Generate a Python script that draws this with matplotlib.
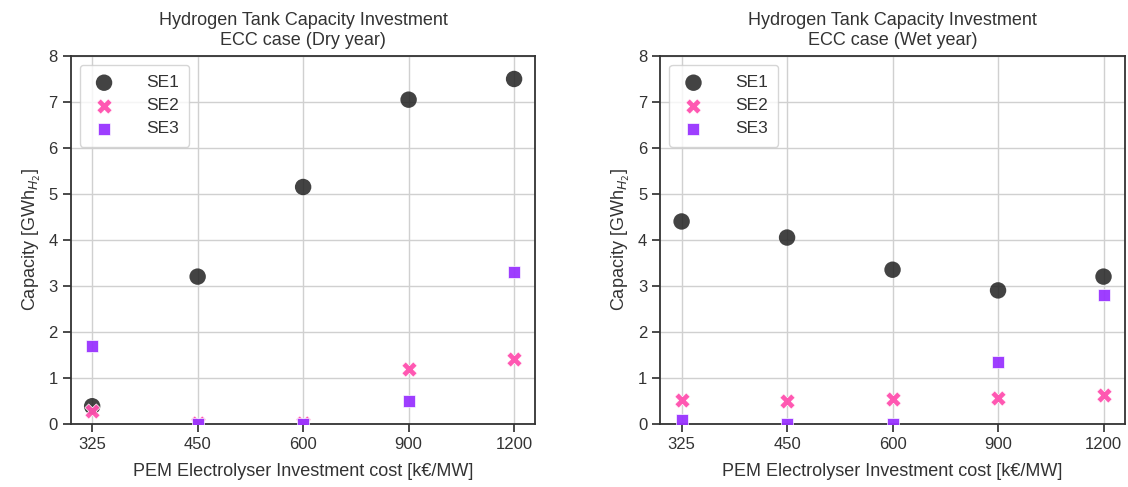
import matplotlib
matplotlib.use("Agg")
import matplotlib.pyplot as plt
import seaborn as sns

# PEM electrolyser investment cost levels [kEUR/MW]
costs = ["325", "450", "600", "900", "1200"]

# Hydrogen tank capacity per bidding zone [GWh H2], dry year
dry_se1 = [0.38, 3.2, 5.15, 7.05, 7.5]
dry_se2 = [0.27, 0.02, 0.02, 1.2, 1.4]
dry_se3 = [1.7, 0.0, 0.0, 0.5, 3.3]

# Hydrogen tank capacity per bidding zone [GWh H2], wet year
wet_se1 = [4.4, 4.05, 3.35, 2.9, 3.2]
wet_se2 = [0.52, 0.5, 0.53, 0.55, 0.62]
wet_se3 = [0.07, 0.0, 0.0, 1.35, 2.8]

sns.set_theme(style="ticks")
plt.rcParams["font.family"] = ["Liberation Sans", "DejaVu Sans"]

fig, axes = plt.subplots(1, 2, figsize=(11.28, 4.87), dpi=100)
fig.subplots_adjust(left=0.063, right=0.997, top=0.885, bottom=0.13, wspace=0.27)

panels = [
    (axes[0], "Dry year", dry_se1, dry_se2, dry_se3),
    (axes[1], "Wet year", wet_se1, wet_se2, wet_se3),
]

xs = list(range(len(costs)))
for ax, year, se1, se2, se3 in panels:
    ax.grid(True, color="#d0d0d0", linewidth=1.0)
    ax.set_axisbelow(True)
    ax.scatter(xs, se1, s=140, marker="o", color="#222222", alpha=0.85,
               edgecolor="none", label="SE1", zorder=3)
    ax.scatter(xs, se2, s=120, marker="X", color="#ff4fae", alpha=0.95,
               edgecolor="white", linewidth=0.5, label="SE2", zorder=3)
    ax.scatter(xs, se3, s=80, marker="s", color="#9933ff", alpha=0.95,
               edgecolor="white", linewidth=0.5, label="SE3", zorder=3)
    ax.set_xticks(xs)
    ax.set_xticklabels(costs)
    ax.set_xlim(-0.2, len(costs) - 0.8)
    ax.set_ylim(0, 8)
    ax.set_yticks(range(0, 9))
    ax.tick_params(labelsize=12, colors="#333333")
    for sp in ax.spines.values():
        sp.set_color("#333333")
        sp.set_linewidth(1.3)
    ax.set_xlabel("PEM Electrolyser Investment cost [k€/MW]", fontsize=13,
                  color="#333333", labelpad=8)
    ax.set_ylabel("Capacity [GWh$_{H_2}$]", fontsize=13, color="#333333")
    ax.set_title(f"Hydrogen Tank Capacity Investment\nECC case ({year})",
                 fontsize=13, color="#333333", linespacing=1.25, pad=8)
    leg = ax.legend(loc="upper left", fontsize=12.5, markerscale=1.0,
                    borderpad=0.6, labelspacing=0.45, handletextpad=1.6,
                    handlelength=1.6)
    for t in leg.get_texts():
        t.set_color("#333333")

fig.savefig("out.png", dpi=100)
